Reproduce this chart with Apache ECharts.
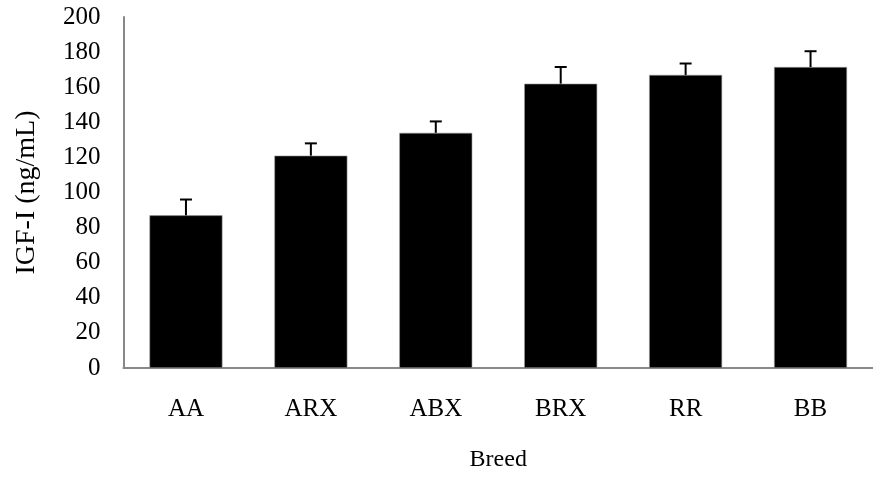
<!DOCTYPE html>
<html><head><meta charset="utf-8">
<script src="https://cdn.jsdelivr.net/npm/echarts@6/dist/echarts.min.js"></script>
<style>html,body{margin:0;padding:0;background:#fff}#c{width:873px;height:477px}</style>
</head><body><div id="c"></div>
<script>
var categories = ['AA', 'ARX', 'ABX', 'BRX', 'RR', 'BB'];
var means = [87, 121, 134, 162, 167, 171.5];
var errors = [9, 7, 6.5, 9.5, 6.5, 9];
var yTicks = {min: 0, max: 200, interval: 20};

var chart = echarts.init(document.getElementById('c'));
var font = 'Liberation Serif';
chart.setOption({
  animation: false,
  grid: {left: 123.5, top: 17, bottom: 104.5, right: -11},
  xAxis: {
    type: 'category', data: categories,
    name: 'Breed', nameLocation: 'middle', nameGap: 80,
    nameTextStyle: {fontFamily: font, fontSize: 24, color: '#000'},
    axisLine: {lineStyle: {color: '#888', width: 2}},
    axisTick: {show: false},
    axisLabel: {fontFamily: font, fontSize: 25, color: '#000', margin: 29}
  },
  yAxis: {
    type: 'value', min: yTicks.min, max: yTicks.max, interval: yTicks.interval,
    name: 'IGF-I (ng/mL)', nameLocation: 'middle', nameGap: 83,
    nameTextStyle: {fontFamily: font, fontSize: 28, color: '#000'},
    axisLine: {show: true, lineStyle: {color: '#888', width: 2}},
    axisTick: {show: false},
    splitLine: {show: false},
    axisLabel: {fontFamily: font, fontSize: 25, color: '#000', margin: 23}
  },
  series: [{
    type: 'bar', data: means, barWidth: 73,
    itemStyle: {color: '#000', borderColor: '#999', borderWidth: 0.6}
  }, {
    type: 'custom',
    data: means.map(function (m, i) { return [i, m, errors[i]]; }),
    renderItem: function (params, api) {
      var i = api.value(0), m = api.value(1), e = api.value(2);
      var base = api.coord([i, m]);
      var top = api.coord([i, m + e]);
      var hw = 6;
      return {
        type: 'group',
        children: [
          {type: 'line', shape: {x1: base[0], y1: base[1], x2: top[0], y2: top[1]}, style: {stroke: '#000', lineWidth: 2}},
          {type: 'line', shape: {x1: top[0] - hw, y1: top[1], x2: top[0] + hw, y2: top[1]}, style: {stroke: '#000', lineWidth: 2}}
        ]
      };
    },
    z: 5
  }]
});
</script></body></html>
